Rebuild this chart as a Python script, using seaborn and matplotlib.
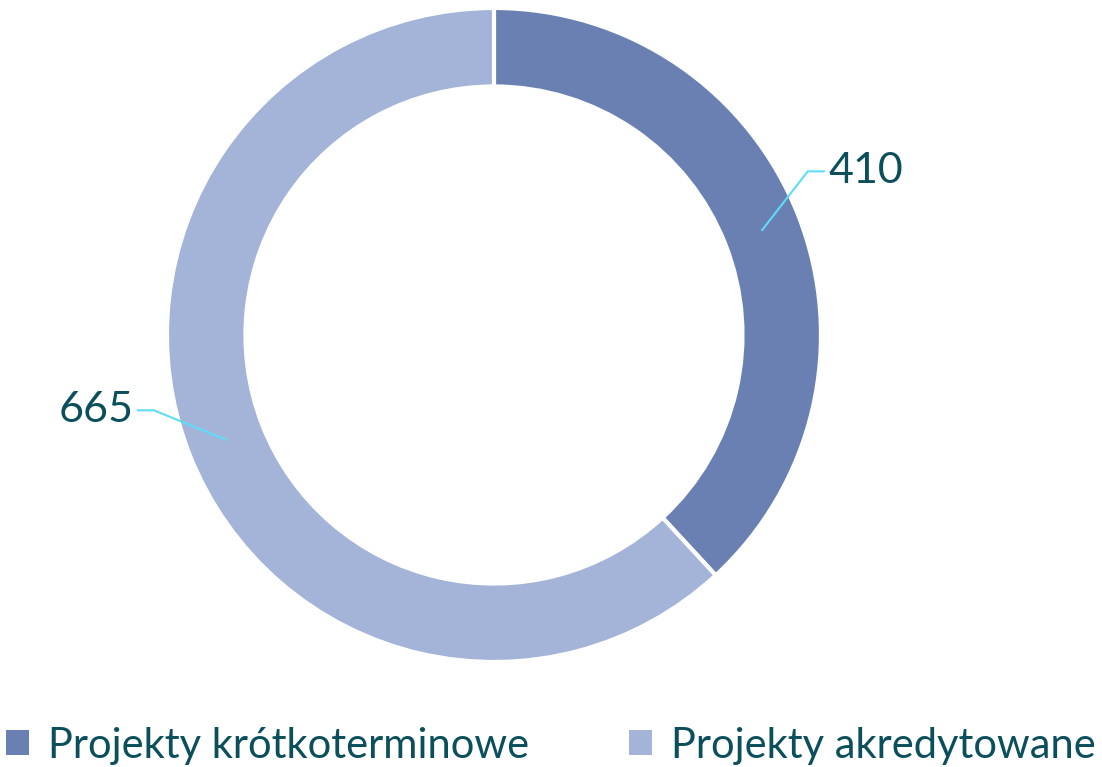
import numpy as np
import matplotlib
matplotlib.use("Agg")
from matplotlib import pyplot as plt
from matplotlib.patches import Patch
import seaborn as sns

categories = ["Projekty krótkoterminowe", "Projekty akredytowane"]
values = [410, 665]
slice_colors = ["#6a80b3", "#a4b3d8"]
text_color = "#0b4f5c"
leader_color = "#5fdcf7"

sns.set_theme(style="white")
plt.rcParams['font.family'] = ['Lato', 'DejaVu Sans']

fig = plt.figure(figsize=(11.02, 7.67), dpi=100)
ax = fig.add_axes([0.1515, 0.1369, 0.5935, 0.8527])

wedges, _ = ax.pie(values, colors=slice_colors, startangle=90, counterclock=False,
                   radius=1.0, wedgeprops=dict(width=0.24, edgecolor="white", linewidth=3))
ax.set_aspect("equal")
ax.set_xlim(-1, 1)
ax.set_ylim(-1, 1)

# leader lines + value labels, positioned from the wedge mid angles
elbow_offsets = [(0.14, 0.18), (-0.22, 0.09)]
for w, val, (dx, dy) in zip(wedges, values, elbow_offsets):
    ang = np.deg2rad((w.theta1 + w.theta2) / 2)
    x0, y0 = 0.88 * np.cos(ang), 0.88 * np.sin(ang)
    x1, y1 = x0 + dx, y0 + dy
    side = np.sign(np.cos(ang))
    x2 = x1 + side * 0.05
    ax.plot([x0, x1, x2], [y0, y1, y1], color=leader_color, lw=1.5, clip_on=False)
    ax.text(x2 + side * 0.012, y1, str(val), ha="left" if side > 0 else "right",
            va="center", fontsize=31, color=text_color)

handles = [Patch(facecolor=c, edgecolor="none") for c in slice_colors]
leg = fig.legend(handles, categories, loc="center", bbox_to_anchor=(0.5, 0.028),
                 ncol=2, frameon=False, fontsize=30, handlelength=0.55, handleheight=0.55,
                 handletextpad=0.45, columnspacing=2.4)
for t in leg.get_texts():
    t.set_color(text_color)

fig.savefig("out.png", dpi=100)
